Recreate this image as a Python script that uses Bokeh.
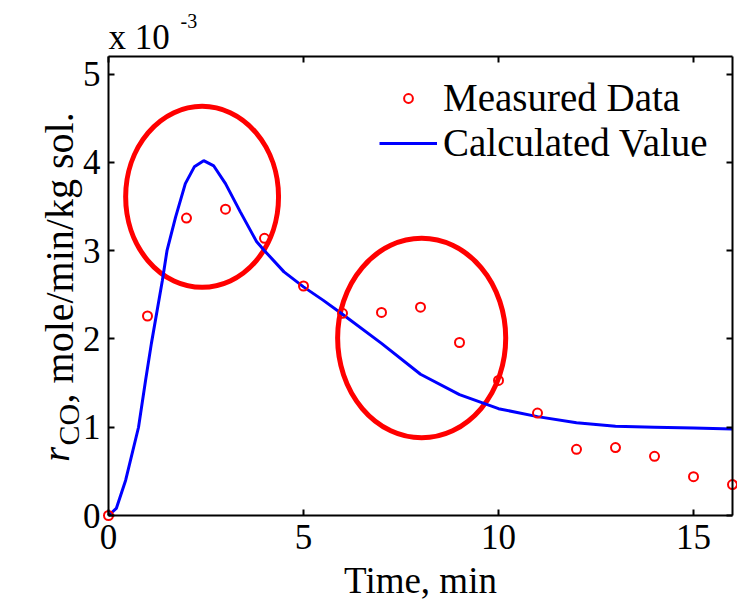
import math
from bokeh.plotting import figure
from bokeh.models import Range1d, LinearAxis, Label, Legend, LegendItem, FixedTicker
from bokeh.embed import file_html
from bokeh.resources import INLINE

# ---- data (rate in units of 1e-3 mole/min/kg sol.) ----
time_measured = [0, 1, 2, 3, 4, 5, 6, 7, 8, 9, 10, 11, 12, 13, 14, 15, 16]
rate_measured = [0.0, 2.26, 3.37, 3.47, 3.14, 2.60, 2.29, 2.30, 2.36, 1.96,
                 1.53, 1.16, 0.75, 0.77, 0.67, 0.44, 0.35]

time_calc = [0, 0.2, 0.44, 0.77, 0.95, 1.1, 1.38, 1.5, 1.72, 1.97, 2.2, 2.44,
             2.7, 3.0, 3.38, 3.8, 4.0, 4.5, 5.0, 5.5, 6.0, 7.0, 8.0, 9.0, 10.0,
             11.0, 12.0, 13.0, 14.0, 15.0, 16.0]
rate_calc = [0.0, 0.08, 0.40, 1.0, 1.53, 1.95, 2.66, 3.0, 3.38, 3.76, 3.95, 4.02,
             3.96, 3.76, 3.44, 3.10, 3.0, 2.76, 2.59, 2.44, 2.28, 1.95, 1.60, 1.37,
             1.21, 1.12, 1.05, 1.01, 1.0, 0.99, 0.98]

x_ticks = [0, 5, 10, 15]
y_ticks = [0, 1, 2, 3, 4, 5]
X_MIN, X_MAX = 0, 16
Y_MIN, Y_MAX = 0, 5.2

# highlighted regions (ellipses) in data units
highlight_cx = [2.40, 8.03]
highlight_cy = [3.61, 2.01]
highlight_w = [3.92, 4.31]
highlight_h = [2.05, 2.26]

FONT = "Liberation Serif"
W, H = 737, 601
# pixel box of the axes inside the canvas
BOX_L, BOX_R, BOX_T, BOX_B = 108, 732, 56, 515
ppx = (BOX_R - BOX_L) / (X_MAX - X_MIN)
ppy = (BOX_B - BOX_T) / (Y_MAX - Y_MIN)
x_range = Range1d(X_MIN - BOX_L / ppx, X_MAX + (W - BOX_R) / ppx)
y_range = Range1d(Y_MIN - (H - BOX_B) / ppy, Y_MAX + BOX_T / ppy)

p = figure(width=W, height=H, x_range=x_range, y_range=y_range,
           output_backend="svg", toolbar_location=None,
           min_border_left=0, min_border_right=0,
           min_border_top=0, min_border_bottom=0,
           background_fill_color="white", border_fill_color="white")
p.title.visible = False
p.grid.visible = False
p.outline_line_color = None

def style_axis(ax, ticks, loc, bounds, show_labels=True):
    ax.ticker = FixedTicker(ticks=ticks)
    ax.fixed_location = loc
    ax.bounds = bounds
    ax.minor_tick_line_color = None
    ax.major_tick_in = 6
    ax.major_tick_out = 0
    ax.major_tick_line_width = 2
    ax.axis_line_width = 2
    ax.axis_line_color = "black"
    ax.major_tick_line_color = "black"
    ax.major_label_text_font = FONT
    ax.major_label_text_font_size = "35px"
    if show_labels:
        ax.major_label_text_color = "black"
    else:
        ax.major_label_text_color = None

style_axis(p.xaxis[0], x_ticks, Y_MIN, (X_MIN, X_MAX))
style_axis(p.yaxis[0], y_ticks, X_MIN, (Y_MIN, Y_MAX))
p.xaxis[0].major_label_standoff = 9
p.yaxis[0].major_label_standoff = 8
p.xaxis[0].axis_label = "Time, min"
p.xaxis[0].axis_label_text_font = FONT
p.xaxis[0].axis_label_text_font_size = "37px"
p.xaxis[0].axis_label_text_font_style = "normal"
p.xaxis[0].axis_label_text_color = "black"
p.xaxis[0].axis_label_standoff = 8

top_ax = LinearAxis()
right_ax = LinearAxis()
style_axis(top_ax, x_ticks, Y_MAX, (X_MIN, X_MAX), show_labels=False)
style_axis(right_ax, y_ticks, X_MAX, (Y_MIN, Y_MAX), show_labels=False)
p.add_layout(top_ax, "above")
p.add_layout(right_ax, "right")

# highlight ellipses
p.ellipse(x=highlight_cx, y=highlight_cy, width=highlight_w, height=highlight_h,
          fill_color=None, line_color="#ff0000", line_width=5)

ln = p.line(time_calc, rate_calc, line_color="#0000ff", line_width=3)
sc = p.scatter(time_measured, rate_measured, marker="circle", size=9,
               fill_color=None, line_color="#ff0000", line_width=2)

legend = Legend(items=[LegendItem(label="Measured Data", renderers=[sc]),
                       LegendItem(label="Calculated Value", renderers=[ln])],
                location=(379, 436), border_line_color=None,
                background_fill_alpha=0, padding=0, margin=0, spacing=0,
                glyph_width=58, glyph_height=22, label_height=45,
                label_standoff=6, label_text_font=FONT,
                label_text_font_size="39px", label_text_color="black")
p.add_layout(legend)

# exponent label above the y axis
p.add_layout(Label(x=X_MIN, y=Y_MAX, x_offset=0, y_offset=19, text="x 10",
                   text_font=FONT, text_font_size="35px", text_color="black",
                   text_baseline="alphabetic", text_align="left"))
p.add_layout(Label(x=X_MIN, y=Y_MAX, x_offset=72, y_offset=36, text="-3",
                   text_font=FONT, text_font_size="20px", text_color="black",
                   text_baseline="alphabetic", text_align="left"))

# y axis label: r_CO, mole/min/kg sol.
rot = math.pi / 2
p.add_layout(Label(x=X_MIN, y=0.61, x_offset=-53, text="r", angle=rot,
                   text_font=FONT, text_font_size="38px", text_font_style="italic",
                   text_color="black",
                   text_baseline="alphabetic", text_align="left"))
p.add_layout(Label(x=X_MIN, y=0.793, x_offset=-40, text="CO", angle=rot,
                   text_font=FONT, text_font_size="30px", text_color="black",
                   text_baseline="alphabetic", text_align="left"))
p.add_layout(Label(x=X_MIN, y=1.269, x_offset=-49, text=", mole/min/kg sol.", angle=rot,
                   text_font=FONT, text_font_size="40px", text_color="black",
                   text_baseline="alphabetic", text_align="left"))

open("out.html", "w").write(file_html(p, INLINE))
